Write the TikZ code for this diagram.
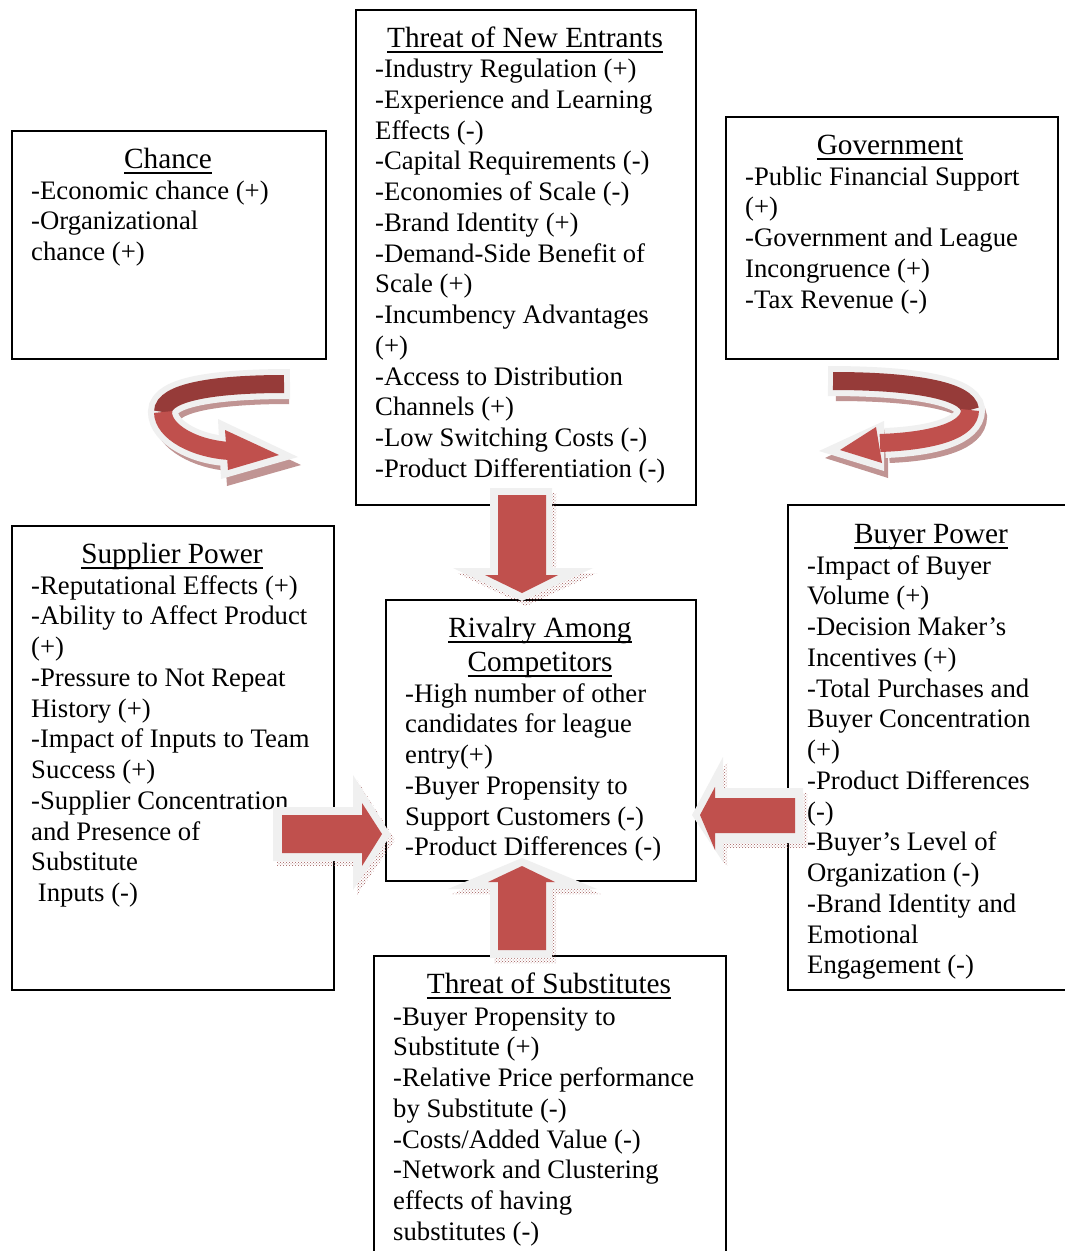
\documentclass[tikz,border=0pt]{standalone}
\usepackage{fontspec}
\setmainfont{Liberation Serif}
\usetikzlibrary{patterns}
\definecolor{ared}{HTML}{C0504D}
\definecolor{adark}{HTML}{963B39}
\definecolor{aout}{HTML}{F0F0F0}
\definecolor{ashad}{HTML}{9E5A59}
\newcommand\uline[1]{\setbox0=\hbox{#1}\rlap{\rule[-5.5pt]{\wd0}{1.5pt}}\box0}
\newcommand\linesat[4]{%
  \foreach \lintext [count=\i from 0] in {#4} {
    \node[txt] (#1-\i) at (#2, #3+3+\i*30.75) {\lintext};
  }}
\tikzset{
  panel/.style={draw=black, line width=1.5pt, anchor=north west, inner sep=0pt},
  ttl/.style={anchor=base, inner sep=0pt, font=\fontsize{29.3}{33}\selectfont},
  txt/.style={anchor=base west, inner sep=0pt, font=\fontsize{26.7}{30.75}\selectfont},
  redfill/.style={fill=ared},
  rimfill/.style={fill=aout},
  shadfill/.style={pattern=crosshatch dots, pattern color=ashad},
  darkband/.style={draw=adark, line width=18pt},
  redband/.style={draw=ared, line width=18pt},
  rimband/.style={draw=aout, line width=30pt},
  shadband/.style={draw=ashad!65, line width=26pt},
}
\begin{document}
\begin{tikzpicture}[x=1pt,y=-1pt]
\useasboundingbox (0,0) rectangle (1065,1251);
\fill[white] (0,0) rectangle (1065,1251);

% ---------- boxes ----------
\node[panel, minimum width=314pt, minimum height=228pt] (chance) at (11,130) {};
\node[panel, minimum width=340pt, minimum height=495pt] (entrants) at (355,9) {};
\node[panel, minimum width=332pt, minimum height=242pt] (gov) at (725,116) {};
\node[panel, minimum width=322pt, minimum height=464pt] (supplier) at (11,525) {};
\node[panel, minimum width=310pt, minimum height=281pt] (rivalry) at (385,599) {};
\node[panel, minimum width=282pt, minimum height=485pt] (buyer) at (787,504) {};
\node[panel, minimum width=352pt, minimum height=310pt] (subst) at (373,955) {};

% ---------- texts ----------
\node[ttl] (chance-t) at (168,168) {\uline{Chance}};
\linesat{chance}{31}{196}{{-Economic chance (+)},{-Organizational},{chance (+)}}

\node[ttl] (entrants-t) at (525,47) {\uline{Threat of New Entrants}};
\linesat{entrants}{375}{74.5}{{-Industry Regulation (+)},{-Experience and Learning},{Effects (-)},{-Capital Requirements (-)},{-Economies of Scale (-)},{-Brand Identity (+)},{-Demand-Side Benefit of},{Scale (+)},{-Incumbency Advantages},{(+)},{-Access to Distribution},{Channels (+)},{-Low Switching Costs (-)},{-Product Differentiation (-)}}

\node[ttl] (gov-t) at (890,154) {\uline{Government}};
\linesat{gov}{745}{182}{{-Public Financial Support},{(+)},{-Government and League},{Incongruence (+)},{-Tax Revenue (-)}}

\node[ttl] (supplier-t) at (172,563) {\uline{Supplier Power}};
\linesat{supplier}{31}{591}{{-Reputational Effects (+)},{-Ability to Affect Product},{(+)},{-Pressure to Not Repeat},{History (+)},{-Impact of Inputs to Team},{Success (+)},{-Supplier Concentration},{and Presence of},{Substitute},{\ Inputs (-)}}

\node[ttl] (rivalry-t1) at (540,637) {\uline{Rivalry Among}};
\node[ttl] (rivalry-t2) at (540,671) {\uline{Competitors}};
\linesat{rivalry}{405}{699}{{-High number of other},{candidates for league},{entry(+)},{-Buyer Propensity to},{Support Customers (-)},{-Product Differences (-)}}

\node[ttl] (buyer-t) at (931,543) {\uline{Buyer Power}};
\linesat{buyer}{807}{571}{{-Impact of Buyer},{Volume (+)},{-Decision Maker’s},{Incentives (+)},{-Total Purchases and},{Buyer Concentration},{(+)},{-Product Differences},{(-)},{-Buyer’s Level of},{Organization (-)},{-Brand Identity and},{Emotional},{Engagement (-)}}

\node[ttl] (subst-t) at (549,993) {\uline{Threat of Substitutes}};
\linesat{subst}{393}{1022}{{-Buyer Propensity to},{Substitute (+)},{-Relative Price performance},{by Substitute (-)},{-Costs/Added Value (-)},{-Network and Clustering},{effects of having},{substitutes (-)}}

% ---------- block arrows ----------
% down (entrants -> rivalry)
\begin{scope}[shift={(4,5)}]
\fill[shadfill] (490,488) -- (552,488) -- (552,568) -- (593,568) -- (522,601) -- (453,568) -- (490,568) -- cycle;
\end{scope}
\fill[rimfill] (490,488) -- (552,488) -- (552,568) -- (593,568) -- (522,601) -- (453,568) -- (490,568) -- cycle;
\fill[redfill] (498,495) -- (546,495) -- (546,575) -- (558,575) -- (522,593) -- (485,575) -- (498,575) -- cycle;

% up (substitutes -> rivalry)
\begin{scope}[shift={(4,5)}]
\fill[shadfill] (490,958) -- (552,958) -- (552,889) -- (597,889) -- (522,858) -- (448,889) -- (490,889) -- cycle;
\end{scope}
\fill[rimfill] (490,958) -- (552,958) -- (552,889) -- (597,889) -- (522,858) -- (448,889) -- (490,889) -- cycle;
\fill[redfill] (498,950) -- (546,950) -- (546,882) -- (555,882) -- (522,866) -- (488,882) -- (498,882) -- cycle;

% right (supplier -> rivalry)
\begin{scope}[shift={(4,5)}]
\fill[shadfill] (273,807) -- (353,807) -- (353,775) -- (391,835) -- (353,890) -- (353,861) -- (273,861) -- cycle;
\end{scope}
\fill[rimfill] (273,807) -- (353,807) -- (353,775) -- (391,835) -- (353,890) -- (353,861) -- (273,861) -- cycle;
\fill[redfill] (282,815) -- (362,815) -- (362,803) -- (382,834) -- (362,866) -- (362,853) -- (282,853) -- cycle;

% left (buyer -> rivalry)
\begin{scope}[shift={(4,5)}]
\fill[shadfill] (803,788) -- (723,788) -- (723,757) -- (692,815) -- (723,862) -- (723,843) -- (803,843) -- cycle;
\end{scope}
\fill[rimfill] (803,788) -- (723,788) -- (723,757) -- (692,815) -- (723,862) -- (723,843) -- (803,843) -- cycle;
\fill[redfill] (795,798) -- (715,798) -- (715,787) -- (700,815) -- (715,850) -- (715,833) -- (795,833) -- cycle;

% ---------- curved arrows ----------
% left curved arrow (chance)
\begin{scope}[shift={(4,7)}]
\draw[shadband] (285,384) .. controls (215,384) and (163,392) .. (163,412) .. controls (163,432) and (195,449) .. (226,451);
\fill[ashad!65] (219,421) -- (223,479) -- (297,458) -- cycle;
\end{scope}
\draw[rimband] (290,384) .. controls (215,384) and (163,392) .. (163,412) .. controls (163,432) and (195,449) .. (226,451);
\fill[rimfill] (218,419) -- (221,479) -- (298,457) -- cycle;
\draw[darkband] (284,384) .. controls (215,384) and (163,392) .. (163,412);
\draw[redband] (163,412) .. controls (163,432) and (195,449) .. (230,451);
\fill[redfill] (225,430) -- (228,470) -- (279,455) -- cycle;

% right curved arrow (government)
\begin{scope}[shift={(4,7)}]
\draw[shadband] (832,381) .. controls (910,381) and (968,390) .. (970,410) .. controls (970,430) and (935,441) .. (885,443);
\fill[ashad!65] (884,421) -- (884,471) -- (821,451) -- cycle;
\end{scope}
\draw[rimband] (828,381) .. controls (910,381) and (968,390) .. (970,410) .. controls (970,430) and (935,441) .. (885,443);
\fill[rimfill] (884,421) -- (884,471) -- (819,451) -- cycle;
\draw[darkband] (833,381) .. controls (910,381) and (968,390) .. (970,410);
\draw[redband] (970,410) .. controls (970,430) and (935,441) .. (880,443);
\fill[redfill] (876,427) -- (882,463) -- (840,450) -- cycle;
\end{tikzpicture}
\end{document}
